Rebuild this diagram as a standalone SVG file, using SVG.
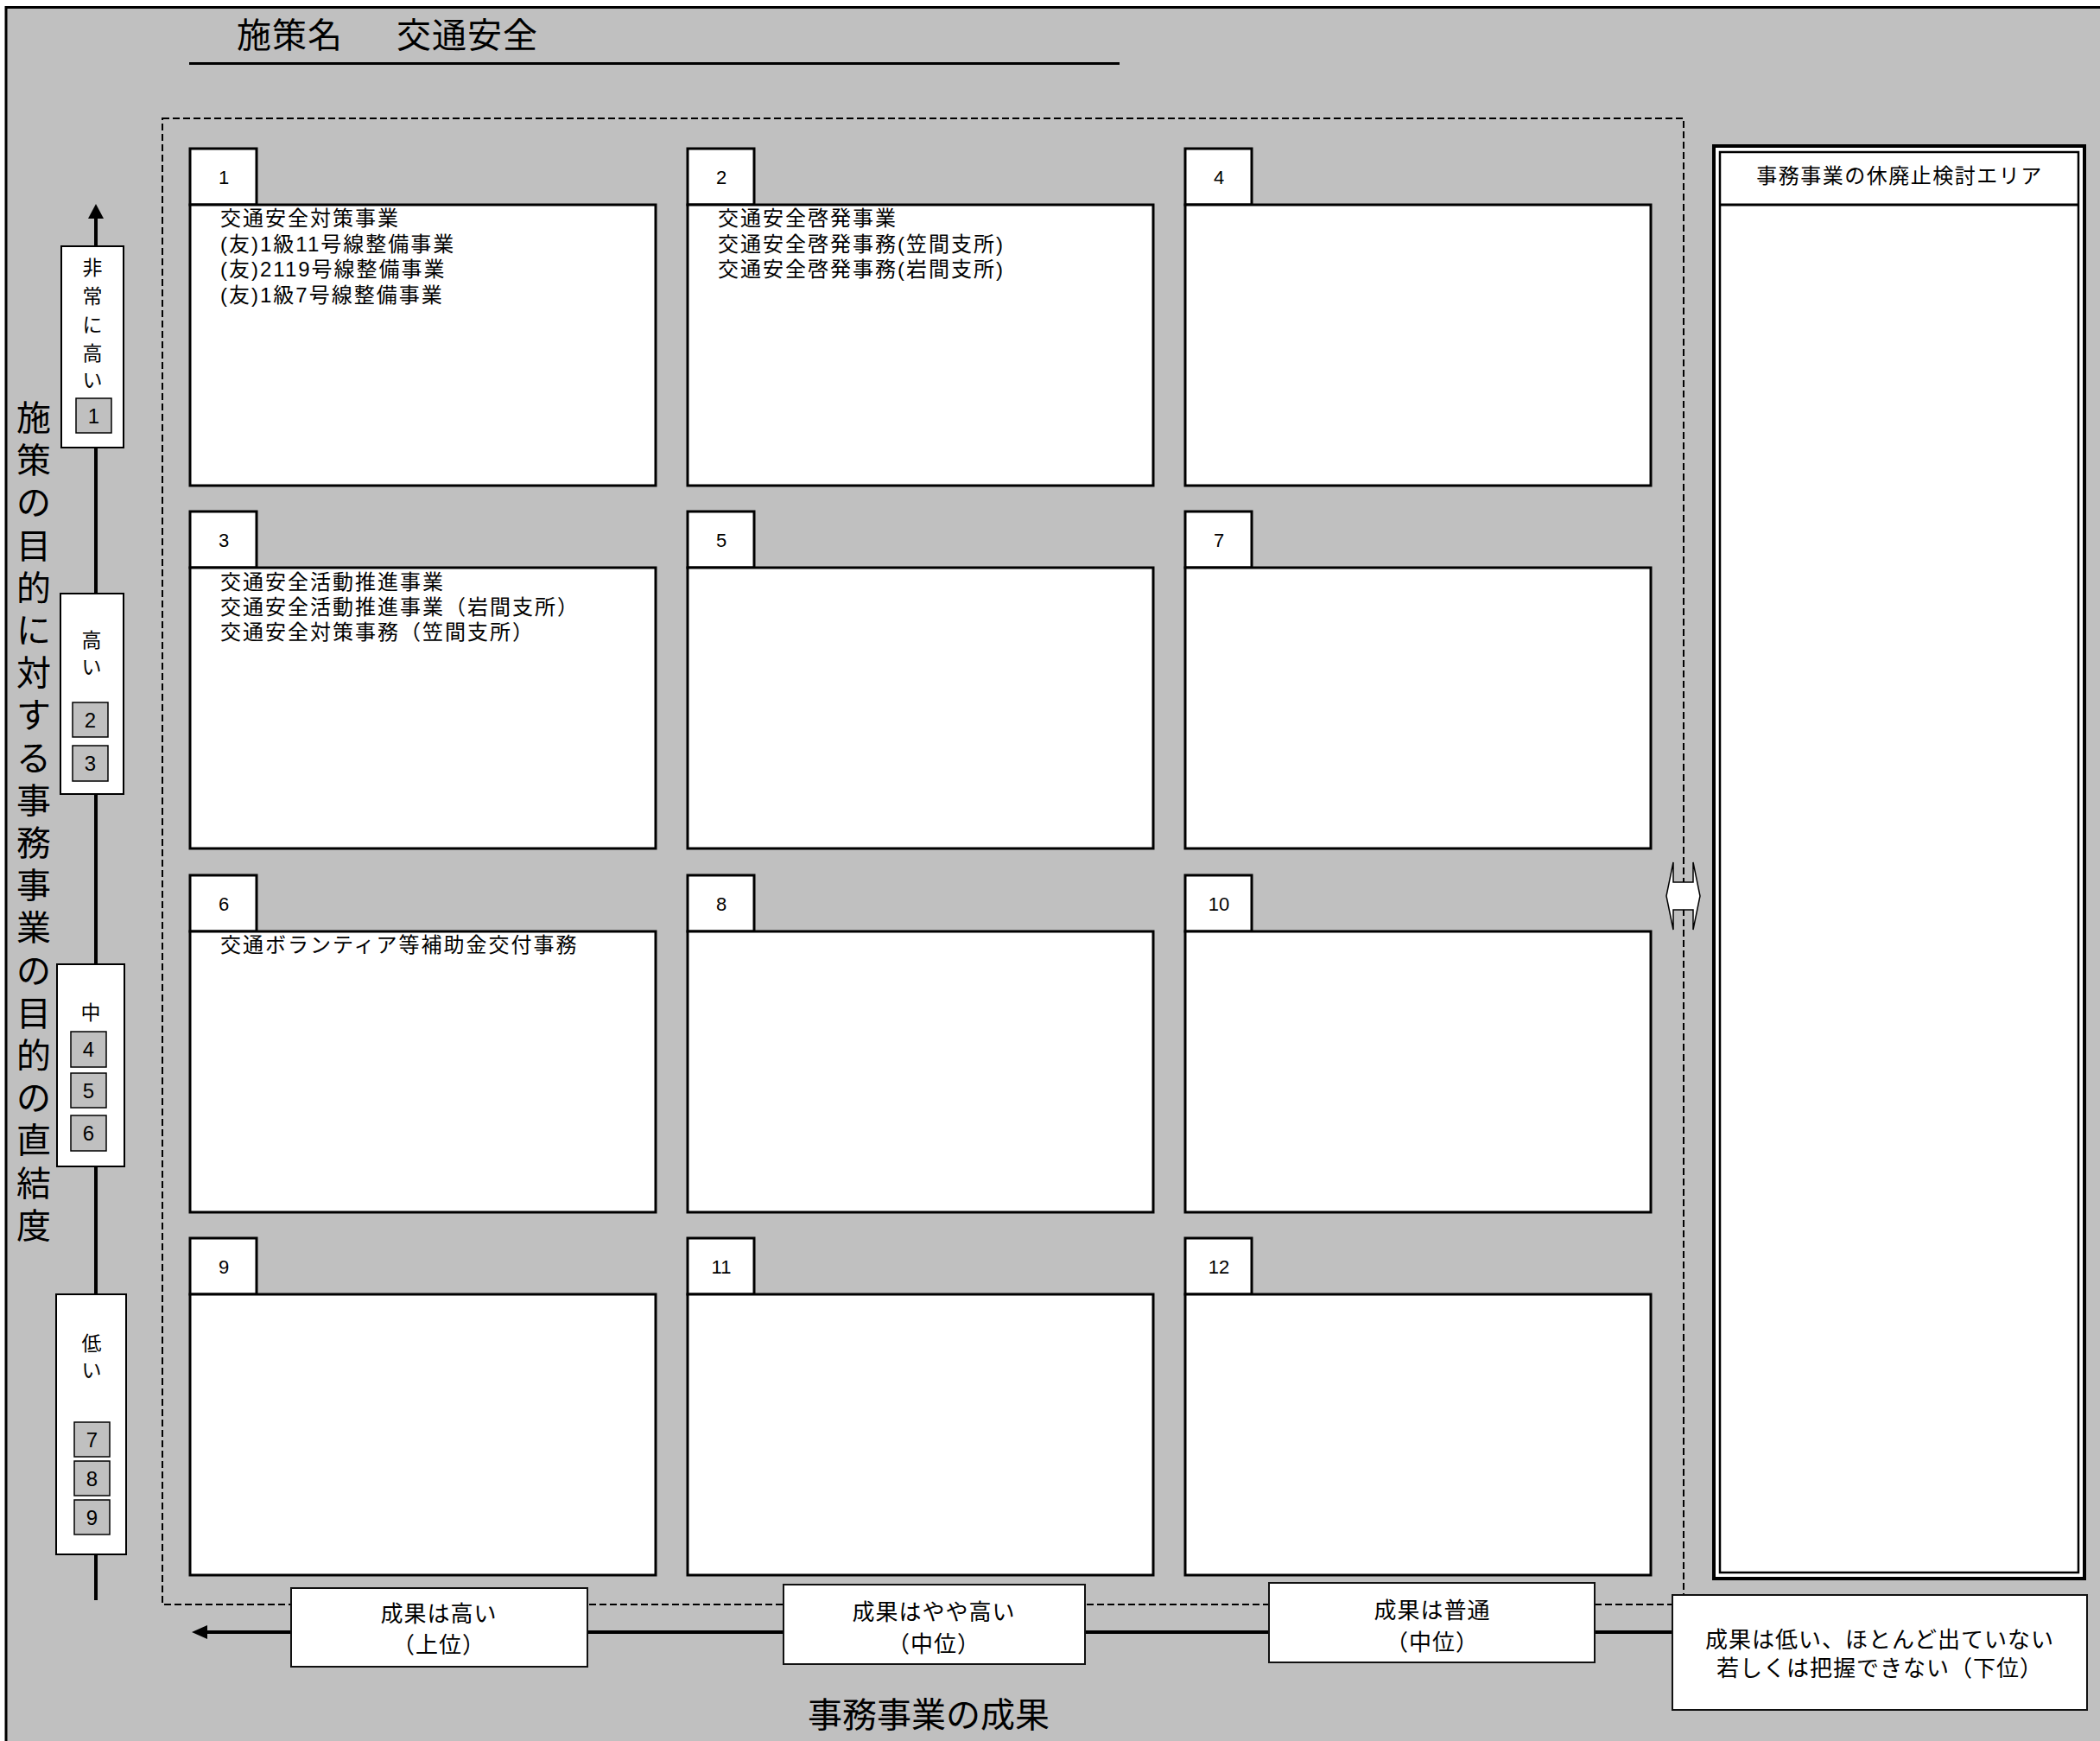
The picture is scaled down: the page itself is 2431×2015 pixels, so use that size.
<svg xmlns="http://www.w3.org/2000/svg" width="2431" height="2015" viewBox="0 0 2431 2015">
<style>
.t{font-family:"Liberation Sans","Noto Sans CJK JP",sans-serif;fill:#000}
.box{fill:#fff;stroke:#000;stroke-width:3}
.tab{fill:#fff;stroke:#000;stroke-width:3}
.num{font-size:22px;text-anchor:middle}
.item{font-size:24px;letter-spacing:2px}
.ax{fill:#fff;stroke:#000;stroke-width:2}
.sq{fill:#c0c0c0;stroke:#000;stroke-width:1.5}
.axl{font-size:23px;text-anchor:middle}
.sqn{font-size:24px;text-anchor:middle}
.lbl{fill:#fff;stroke:#111;stroke-width:2}
.lt{font-size:26px;text-anchor:middle;letter-spacing:1px}
</style>
<rect x="0" y="0" width="2431" height="2015" fill="#fff"/>
<rect x="7" y="8.5" width="2440" height="2030" fill="#c0c0c0" stroke="#000" stroke-width="3"/>

<g id="title">
<text class="t" x="274" y="55" font-size="40" letter-spacing="1">施策名<tspan x="459">交通安全</tspan></text>
<line x1="219" y1="73.5" x2="1296" y2="73.5" stroke="#000" stroke-width="3"/>
</g>

<rect x="188" y="137" width="1761" height="1720" fill="none" stroke="#000" stroke-width="2" stroke-dasharray="8 4"/>

<g id="connectors">
<line x1="111" y1="250" x2="111" y2="1852" stroke="#000" stroke-width="4"/>
<polygon points="111,236 102,253 120,253" fill="#000"/>
<line x1="238" y1="1889" x2="1936" y2="1889" stroke="#000" stroke-width="4"/>
<polygon points="222,1889 240,1881 240,1897" fill="#000"/>
<path d="M1929,1037 L1937,998 L1937,1021 L1960,1021 L1960,998 L1968,1037 L1960,1076 L1960,1053 L1937,1053 L1937,1076 Z" fill="#fff" stroke="#000" stroke-width="1.5"/>
</g>

<g id="yaxis-label">
<text class="t" font-size="40" text-anchor="middle">
<tspan x="39" y="498">施</tspan><tspan x="39" y="547">策</tspan><tspan x="39" y="596">の</tspan><tspan x="39" y="646">目</tspan><tspan x="39" y="695">的</tspan><tspan x="39" y="744">に</tspan><tspan x="39" y="793">対</tspan><tspan x="39" y="842">す</tspan><tspan x="39" y="892">る</tspan><tspan x="39" y="941">事</tspan><tspan x="39" y="990">務</tspan><tspan x="39" y="1039">事</tspan><tspan x="39" y="1088">業</tspan><tspan x="39" y="1138">の</tspan><tspan x="39" y="1187">目</tspan><tspan x="39" y="1236">的</tspan><tspan x="39" y="1285">の</tspan><tspan x="39" y="1334">直</tspan><tspan x="39" y="1384">結</tspan><tspan x="39" y="1433">度</tspan>
</text>
</g>

<g id="axis-very-high">
<rect class="ax" x="71" y="285" width="72" height="233"/>
<text class="t axl"><tspan x="107" y="318">非</tspan><tspan x="107" y="351">常</tspan><tspan x="107" y="384">に</tspan><tspan x="107" y="417">高</tspan><tspan x="107" y="448">い</tspan></text>
<rect class="sq" x="88" y="461" width="41" height="40"/>
<text class="t sqn" x="108.5" y="490">1</text>
</g>

<g id="axis-high">
<rect class="ax" x="70" y="687" width="73" height="232"/>
<text class="t axl"><tspan x="106" y="749">高</tspan><tspan x="106" y="780">い</tspan></text>
<rect class="sq" x="84" y="813" width="41" height="40"/>
<text class="t sqn" x="104.5" y="842">2</text>
<rect class="sq" x="84" y="863" width="41" height="41"/>
<text class="t sqn" x="104.5" y="892">3</text>
</g>

<g id="axis-mid">
<rect class="ax" x="66" y="1116" width="78" height="234"/>
<text class="t axl" x="105" y="1180">中</text>
<rect class="sq" x="82" y="1194" width="41" height="41"/>
<text class="t sqn" x="102.5" y="1223">4</text>
<rect class="sq" x="82" y="1242" width="41" height="40"/>
<text class="t sqn" x="102.5" y="1271">5</text>
<rect class="sq" x="82" y="1291" width="41" height="41"/>
<text class="t sqn" x="102.5" y="1320">6</text>
</g>

<g id="axis-low">
<rect class="ax" x="65" y="1498" width="81" height="301"/>
<text class="t axl"><tspan x="106" y="1563">低</tspan><tspan x="106" y="1594">い</tspan></text>
<rect class="sq" x="86" y="1646" width="41" height="40"/>
<text class="t sqn" x="106.5" y="1675">7</text>
<rect class="sq" x="86" y="1691" width="41" height="40"/>
<text class="t sqn" x="106.5" y="1720">8</text>
<rect class="sq" x="86" y="1736" width="41" height="40"/>
<text class="t sqn" x="106.5" y="1765">9</text>
</g>

<g id="node-1">
<rect class="tab" x="220" y="172" width="77" height="65"/>
<rect class="box" x="220" y="237" width="539" height="325"/>
<text class="t num" x="259" y="213">1</text>
<text class="t item" x="255"><tspan x="255" y="261">交通安全対策事業</tspan><tspan x="255" y="291">(友)1級11号線整備事業</tspan><tspan x="255" y="320">(友)2119号線整備事業</tspan><tspan x="255" y="350">(友)1級7号線整備事業</tspan></text>
</g>
<g id="node-2">
<rect class="tab" x="796" y="172" width="77" height="65"/>
<rect class="box" x="796" y="237" width="539" height="325"/>
<text class="t num" x="835" y="213">2</text>
<text class="t item" x="831"><tspan x="831" y="261">交通安全啓発事業</tspan><tspan x="831" y="291">交通安全啓発事務(笠間支所)</tspan><tspan x="831" y="320">交通安全啓発事務(岩間支所)</tspan></text>
</g>
<g id="node-4">
<rect class="tab" x="1372" y="172" width="77" height="65"/>
<rect class="box" x="1372" y="237" width="539" height="325"/>
<text class="t num" x="1411" y="213">4</text>
</g>

<g id="node-3">
<rect class="tab" x="220" y="592" width="77" height="65"/>
<rect class="box" x="220" y="657" width="539" height="325"/>
<text class="t num" x="259" y="633">3</text>
<text class="t item" x="255"><tspan x="255" y="682">交通安全活動推進事業</tspan><tspan x="255" y="711">交通安全活動推進事業（岩間支所）</tspan><tspan x="255" y="740">交通安全対策事務（笠間支所）</tspan></text>
</g>
<g id="node-5">
<rect class="tab" x="796" y="592" width="77" height="65"/>
<rect class="box" x="796" y="657" width="539" height="325"/>
<text class="t num" x="835" y="633">5</text>
</g>
<g id="node-7">
<rect class="tab" x="1372" y="592" width="77" height="65"/>
<rect class="box" x="1372" y="657" width="539" height="325"/>
<text class="t num" x="1411" y="633">7</text>
</g>

<g id="node-6">
<rect class="tab" x="220" y="1013" width="77" height="65"/>
<rect class="box" x="220" y="1078" width="539" height="325"/>
<text class="t num" x="259" y="1054">6</text>
<text class="t item" x="255" y="1102">交通ボランティア等補助金交付事務</text>
</g>
<g id="node-8">
<rect class="tab" x="796" y="1013" width="77" height="65"/>
<rect class="box" x="796" y="1078" width="539" height="325"/>
<text class="t num" x="835" y="1054">8</text>
</g>
<g id="node-10">
<rect class="tab" x="1372" y="1013" width="77" height="65"/>
<rect class="box" x="1372" y="1078" width="539" height="325"/>
<text class="t num" x="1411" y="1054">10</text>
</g>

<g id="node-9">
<rect class="tab" x="220" y="1433" width="77" height="65"/>
<rect class="box" x="220" y="1498" width="539" height="325"/>
<text class="t num" x="259" y="1474">9</text>
</g>
<g id="node-11">
<rect class="tab" x="796" y="1433" width="77" height="65"/>
<rect class="box" x="796" y="1498" width="539" height="325"/>
<text class="t num" x="835" y="1474">11</text>
</g>
<g id="node-12">
<rect class="tab" x="1372" y="1433" width="77" height="65"/>
<rect class="box" x="1372" y="1498" width="539" height="325"/>
<text class="t num" x="1411" y="1474">12</text>
</g>

<g id="abolition-area">
<rect x="1984" y="169" width="429" height="1658" fill="#fff" stroke="#000" stroke-width="4"/>
<rect x="1991" y="176" width="415" height="1644" fill="none" stroke="#000" stroke-width="2.5"/>
<line x1="1991" y1="237" x2="2406" y2="237" stroke="#000" stroke-width="3"/>
<text class="t" x="2199" y="212" font-size="24" text-anchor="middle" letter-spacing="1.5">事務事業の休廃止検討エリア</text>
</g>

<g id="result-high">
<rect class="lbl" x="337" y="1838" width="343" height="91"/>
<text class="t lt"><tspan x="508" y="1877">成果は高い</tspan><tspan x="508" y="1913">（上位）</tspan></text>
</g>
<g id="result-fairly-high">
<rect class="lbl" x="907" y="1834" width="349" height="92"/>
<text class="t lt"><tspan x="1081" y="1875">成果はやや高い</tspan><tspan x="1081" y="1912">（中位）</tspan></text>
</g>
<g id="result-normal">
<rect class="lbl" x="1469" y="1832" width="377" height="92"/>
<text class="t lt"><tspan x="1658" y="1873">成果は普通</tspan><tspan x="1658" y="1910">（中位）</tspan></text>
</g>
<g id="result-low">
<rect class="lbl" x="1936" y="1846" width="480" height="133"/>
<text class="t lt"><tspan x="2176" y="1907">成果は低い、ほとんど出ていない</tspan><tspan x="2176" y="1940">若しくは把握できない（下位）</tspan></text>
</g>

<g id="xaxis-label">
<text class="t" x="1075" y="1999" font-size="40" text-anchor="middle">事務事業の成果</text>
</g>
</svg>
